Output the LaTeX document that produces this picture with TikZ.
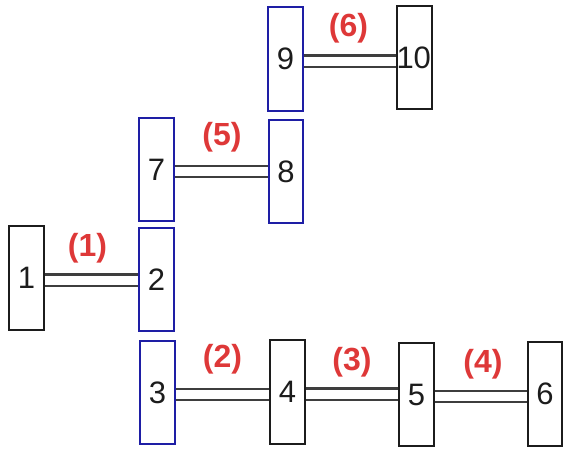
\documentclass[tikz,border=0pt]{standalone}
\usepackage{fontspec}
\setmainfont{Liberation Sans}
\definecolor{boxblue}{RGB}{30,30,165}
\definecolor{boxblack}{RGB}{28,28,28}
\definecolor{labred}{RGB}{222,56,56}
\tikzset{
  blk/.style={draw=boxblack, line width=2.2pt, minimum width=34.5pt, minimum height=103.5pt, inner sep=0pt, font=\fontsize{31}{31}\selectfont, text=boxblack},
  blu/.style={blk, draw=boxblue},
  conn/.style={draw=boxblack!85, line width=2.1pt, double=white, double distance=9pt},
  lab/.style={text=labred, font=\bfseries\fontsize{32}{32}\selectfont, inner sep=0pt}
}
\begin{document}
\begin{tikzpicture}[x=1pt,y=-1pt]
\useasboundingbox (0,0) rectangle (563,453);
\node[blk] (n1) at (26.5,278) {1};
\node[blu] (n2) at (156.5,279.5) {\raisebox{-3pt}{2}};
\node[blu] (n7) at (156.5,169.5) {7};
\node[blu] (n3) at (157.5,392.5) {3};
\node[blu] (n8) at (286,171.5) {8};
\node[blu] (n9) at (285.5,59) {9};
\node[blk] (n10) at (414.5,57.5) {\kern-1.5pt10};
\node[blk] (n4) at (287.5,392) {4};
\node[blk] (n5) at (416.5,394.5) {5};
\node[blk] (n6) at (545,394) {6};
\draw[conn] ([yshift=-2pt]n1.east) -- ([yshift=-2pt]n1.east -| n2.west);
\draw[conn] ([yshift=-2pt]n3.east) -- ([yshift=-2pt]n3.east -| n4.west);
\draw[conn] ([yshift=-2pt]n4.east) -- ([yshift=-2pt]n4.east -| n5.west);
\draw[conn] ([yshift=-2pt]n5.east) -- ([yshift=-2pt]n5.east -| n6.west);
\draw[conn] ([yshift=-2pt]n7.east) -- ([yshift=-2pt]n7.east -| n8.west);
\draw[conn] ([yshift=-2pt]n9.east) -- ([yshift=-2pt]n9.east -| n10.west);
\node[lab] (l1) at (87.5,248.5) {(1)};
\node[lab] (l2) at (222.5,359) {(2)};
\node[lab] (l3) at (352,362.5) {(3)};
\node[lab] (l4) at (483,364.5) {(4)};
\node[lab] (l5) at (222,137.5) {(5)};
\node[lab] (l6) at (348.5,28.5) {(6)};
\end{tikzpicture}
\end{document}
